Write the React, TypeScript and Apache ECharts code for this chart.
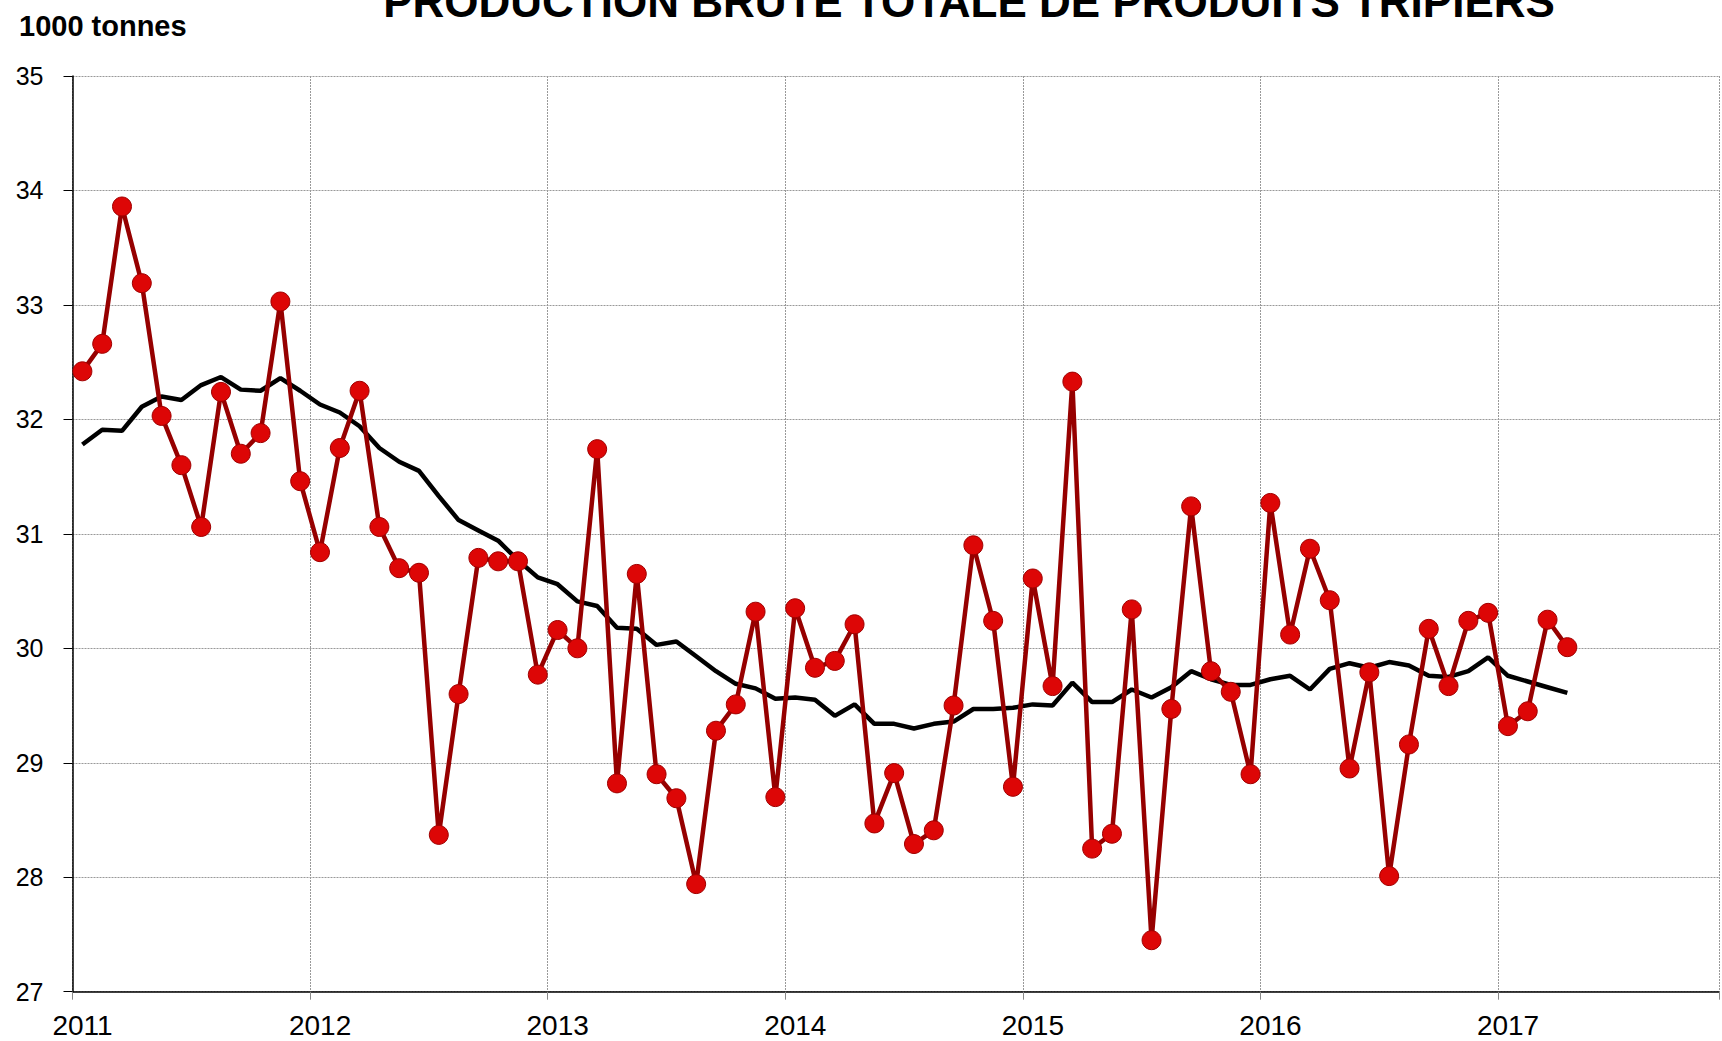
import React, { useEffect, useRef } from "react";
import * as echarts from "echarts";

const START_YEAR = 2011;
const TITLE = "PRODUCTION BRUTE TOTALE DE PRODUITS TRIPIERS";
const UNIT = "1000 tonnes";

// Monthly gross production, Jan 2011 .. Apr 2017 (1000 t)
const production = [
  32.42, 32.66, 33.86, 33.19, 32.03, 31.6, 31.06, 32.24, 31.7, 31.88, 33.03, 31.46,
  30.84, 31.75, 32.25, 31.06, 30.7, 30.66, 28.37, 29.6, 30.79, 30.76, 30.76, 29.77,
  30.16, 30.0, 31.74, 28.82, 30.65, 28.9, 28.69, 27.94, 29.28, 29.51, 30.32, 28.7,
  30.35, 29.83, 29.89, 30.21, 28.47, 28.91, 28.29, 28.41, 29.5, 30.9, 30.24, 28.79,
  30.61, 29.67, 32.33, 28.25, 28.38, 30.34, 27.45, 29.47, 31.24, 29.8, 29.62, 28.9,
  31.27, 30.12, 30.87, 30.42, 28.95, 29.79, 28.01, 29.16, 30.17, 29.67, 30.24, 30.31,
  29.32, 29.45, 30.25, 30.01,
];

// 12-month moving average (1000 t)
const moyenne = [
  31.78, 31.91, 31.9, 32.11, 32.2, 32.17, 32.3, 32.37, 32.26, 32.25, 32.36, 32.25,
  32.13, 32.06, 31.94, 31.75, 31.63, 31.55, 31.33, 31.12, 31.03, 30.94, 30.77, 30.62,
  30.56, 30.41, 30.37, 30.18, 30.17, 30.03, 30.06, 29.93, 29.8, 29.69, 29.65, 29.56,
  29.57, 29.55, 29.41, 29.51, 29.34, 29.34, 29.3, 29.34, 29.36, 29.47, 29.47, 29.48,
  29.51, 29.5, 29.7, 29.53, 29.53, 29.64, 29.57, 29.66, 29.8, 29.73, 29.68, 29.68,
  29.73, 29.76, 29.64, 29.82, 29.87, 29.83, 29.88, 29.85, 29.76, 29.75, 29.8, 29.92,
  29.76, 29.71, 29.66, 29.61,
];

const Y_MIN = 27;
const Y_MAX = 35;
const X_MAX = 2017.93;

const monthPos = (i: number) => START_YEAR + (i + 0.5) / 12;

export default function App() {
  const ref = useRef<HTMLDivElement>(null);

  useEffect(() => {
    if (!ref.current) return;
    const chart = echarts.init(ref.current, null, { renderer: "svg" });
    const font = "'Liberation Sans', Arial, sans-serif";
    chart.setOption({
      animation: false,
      backgroundColor: "#ffffff",
      grid: { left: 72.5, right: 0, top: 76, bottom: 49.3, containLabel: false },
      graphic: [
        {
          type: "text",
          x: 969,
          y: 1.5,
          style: {
            text: TITLE,
            fontFamily: font,
            fontWeight: "bold",
            fontSize: 44,
            fill: "#000",
            align: "center",
            verticalAlign: "middle",
          },
        },
        {
          type: "text",
          x: 19,
          y: 25.7,
          style: {
            text: UNIT,
            fontFamily: font,
            fontWeight: "bold",
            fontSize: 29,
            fill: "#000",
            align: "left",
            verticalAlign: "middle",
          },
        },
      ],
      xAxis: {
        type: "value",
        min: START_YEAR,
        max: X_MAX,
        interval: 1,
        axisLine: { show: true, lineStyle: { color: "#000", width: 1.5 } },
        axisTick: { show: true, inside: false, length: 8, lineStyle: { color: "#888", width: 1 } },
        axisLabel: {
          margin: 20,
          fontFamily: font,
          fontSize: 28,
          color: "#000",
          padding: [0, 0, 0, 20],
          formatter: (v: number) => (Number.isInteger(v) ? String(v) : ""),
        },
        splitLine: { show: true, lineStyle: { color: "#999", width: 1, type: [2, 1] } },
      },
      yAxis: {
        type: "value",
        min: Y_MIN,
        max: Y_MAX,
        interval: 1,
        axisLine: { show: true, lineStyle: { color: "#000", width: 1.5 } },
        axisTick: { show: true, inside: false, length: 9, lineStyle: { color: "#000", width: 1 } },
        axisLabel: { margin: 29, fontFamily: font, fontSize: 25, color: "#000" },
        splitLine: { show: true, lineStyle: { color: "#999", width: 1, type: [2, 1] } },
      },
      series: [
        {
          name: "Moyenne mobile",
          type: "line",
          data: moyenne.map((v, i) => [monthPos(i), v]),
          showSymbol: false,
          symbol: "none",
          lineStyle: { color: "#000", width: 4.5 },
          z: 2,
        },
        {
          name: "Production",
          type: "line",
          data: production.map((v, i) => [monthPos(i), v]),
          symbol: "circle",
          symbolSize: 19,
          showAllSymbol: true,
          itemStyle: { color: "#DD0606", borderColor: "#A00000", borderWidth: 1 },
          lineStyle: { color: "#960000", width: 4.5 },
          z: 3,
        },
      ],
    });
    return () => chart.dispose();
  }, []);

  return <div ref={ref} style={{ width: 1722, height: 1041, position: "absolute", left: 0, top: 0 }} />;
}
